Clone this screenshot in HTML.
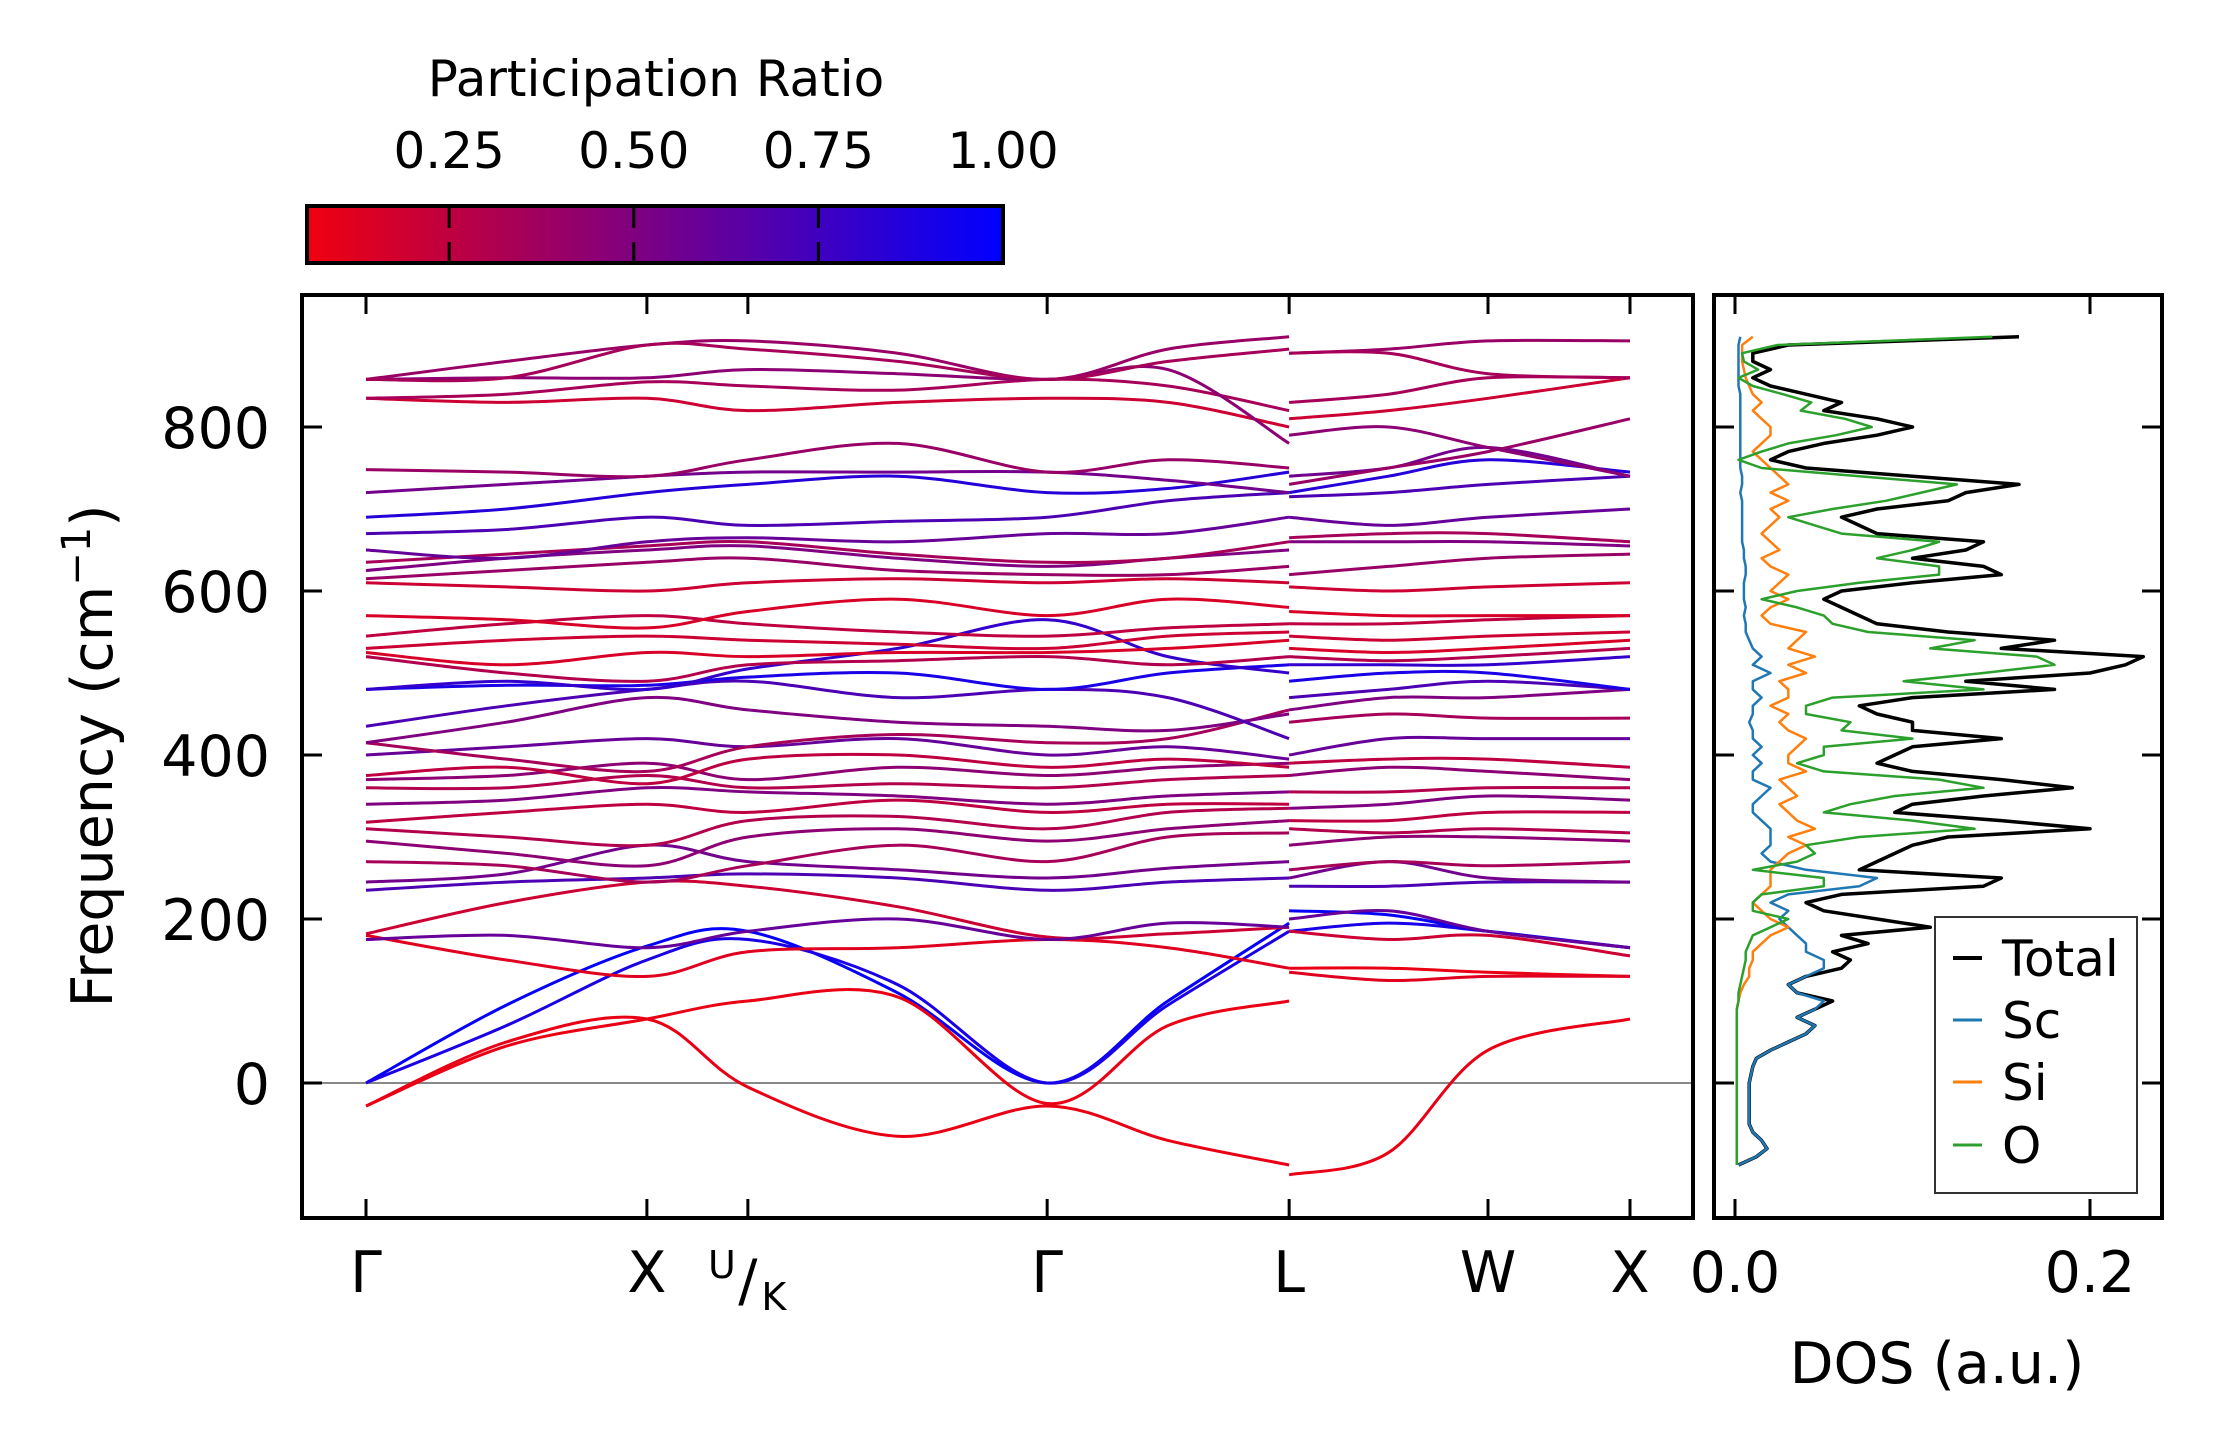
<!DOCTYPE html>
<html><head><meta charset="utf-8"><title>Phonon bands</title>
<style>
html,body{margin:0;padding:0;background:#fff;}
svg{display:block;font-family:"DejaVu Sans","Liberation Sans",sans-serif;}
</style></head>
<body>
<svg id="fig" width="2222" height="1455" viewBox="0 0 2222 1455" xmlns="http://www.w3.org/2000/svg">
<defs>
<linearGradient id="cmap" x1="0" x2="1" y1="0" y2="0">
<stop offset="0" stop-color="rgb(240,0,15)"/><stop offset="1" stop-color="rgb(0,0,255)"/>
</linearGradient>
<clipPath id="mainclip"><rect x="302" y="295" width="1391" height="923"/></clipPath>
<clipPath id="dosclip"><rect x="1714" y="295" width="448" height="923"/></clipPath>
</defs>
<g id="colorbar">
<text x="656" y="96" font-size="50" text-anchor="middle">Participation Ratio</text>
<rect x="307" y="206" width="696" height="57" fill="url(#cmap)" stroke="#000" stroke-width="4"/>
</g>
<g id="main">
<line x1="302" x2="1693" y1="1083" y2="1083" stroke="#888" stroke-width="2"/>
<g id="bands" clip-path="url(#mainclip)"></g>
<rect x="302" y="295" width="1391" height="923" fill="none" stroke="#000" stroke-width="4"/>
<g id="mainticks"></g>
<text transform="rotate(-90 112 756)" x="112" y="756" font-size="57" text-anchor="middle">Frequency (cm<tspan font-size="40" dy="-22">−1</tspan><tspan dy="22">)</tspan></text>
</g>
<g id="dos">
<g id="doslines" clip-path="url(#dosclip)"></g>
<rect x="1714" y="295" width="448" height="923" fill="none" stroke="#000" stroke-width="4"/>
<g id="dosticks"></g>
<text x="1937" y="1383" font-size="57" text-anchor="middle">DOS (a.u.)</text>
<g>
<rect x="1935" y="917" width="202" height="276" fill="#fff" stroke="#333" stroke-width="2"/>
<line x1="1953" x2="1982" y1="958" y2="958" stroke="#000" stroke-width="4"/>
<text x="2002" y="976" font-size="50">Total</text>
<line x1="1953" x2="1982" y1="1020" y2="1020" stroke="#1f77b4" stroke-width="3"/>
<text x="2002" y="1038" font-size="50">Sc</text>
<line x1="1953" x2="1982" y1="1082" y2="1082" stroke="#ff7f0e" stroke-width="3"/>
<text x="2002" y="1100" font-size="50">Si</text>
<line x1="1953" x2="1982" y1="1145" y2="1145" stroke="#2ca02c" stroke-width="3"/>
<text x="2002" y="1163" font-size="50">O</text>
</g>
</g>
</svg>
<script>
// ---- data ----
const kLabels = ["Γ","X","U/K","Γ","L","W","X"];
const kSpecial = [0, 2, 2.719, 4.85, 6.573, 7.989, 9.0]; // path distance of high-symmetry points
const kPath = [0, 1, 2, 2.719, 3.785, 4.85, 5.71, 6.573, 6.573, 7.28, 7.989, 9.0]; // path distance of band sample columns
const yTicks = [0, 200, 400, 600, 800];
const dosTicks = [0.0, 0.2];
const cbTicks = [0.25, 0.50, 0.75, 1.00];
const cbMin = 0.0575, cbMax = 1.0;

const bandPR = [0.98,0.9,0.08,0.08,0.12,0.2,0.6,0.7,0.55,0.35,0.45,0.3,0.25,0.5,0.3,0.45,0.25,0.6,0.35,0.5,0.7,0.9,0.8,0.3,0.15,0.2,0.25,0.15,0.2,0.4,0.5,0.35,0.6,0.7,0.85,0.55,0.4,0.2,0.35,0.45,0.4,0.35];
const band01 = [0,95,167,185,110,0,100,195, 210,205,185,165];
const band02 = [0,70,150,175,120,0,95,185, 185,195,185,165];
const band03 = [-28,45,78,100,105,-25,70,100, 140,140,135,130];
const band04 = [-28,50,78,-5,-65,-28,-70,-100, -112,-85,40,78];
const band05 = [180,150,130,160,165,175,165,140, 135,125,130,130];
const band06 = [182,220,245,240,215,178,182,190, 185,175,180,155];
const band07 = [175,180,165,185,200,175,195,190, 200,210,185,165];
const band08 = [235,245,250,255,250,235,245,250, 240,240,245,245];
const band09 = [245,255,290,270,260,250,262,270, 250,270,250,245];
const band10 = [270,265,245,265,290,270,300,305, 260,270,265,270];
const band11 = [295,280,265,300,310,295,310,320, 290,300,300,295];
const band12 = [310,300,290,320,325,310,330,335, 310,305,310,305];
const band13 = [318,330,340,330,345,330,340,340, 320,320,330,330];
const band14 = [340,345,360,355,350,340,350,355, 335,340,350,345];
const band15 = [360,360,375,360,365,360,370,375, 355,355,360,360];
const band16 = [370,375,390,370,385,375,385,390, 375,385,380,370];
const band17 = [375,385,365,395,400,385,395,385, 390,395,395,385];
const band18 = [400,410,420,410,420,400,410,395, 400,420,420,420];
const band19 = [415,395,380,410,425,415,420,455, 440,450,445,445];
const band20 = [415,440,470,455,440,435,430,450, 455,470,470,480];
const band21 = [435,460,480,490,470,480,470,420, 470,480,490,480];
const band22 = [480,485,485,495,500,480,500,510, 490,500,500,480];
const band23 = [480,490,480,505,530,565,520,500, 510,510,510,520];
const band24 = [520,500,490,510,515,520,510,520, 520,515,520,530];
const band25 = [525,510,525,520,525,525,530,540, 530,525,530,540];
const band26 = [530,540,545,540,535,530,545,550, 545,540,545,550];
const band27 = [545,560,570,560,550,545,555,560, 560,560,565,570];
const band28 = [570,565,555,575,590,570,590,580, 575,570,570,570];
const band29 = [610,605,600,610,615,610,615,610, 605,600,605,610];
const band30 = [615,625,635,640,625,620,620,630, 620,630,640,645];
const band31 = [625,640,650,655,640,630,640,650, 660,660,660,655];
const band32 = [635,645,655,660,645,635,640,660, 665,670,670,660];
const band33 = [650,640,660,665,660,670,670,690, 690,680,690,700];
const band34 = [670,675,690,680,685,690,710,720, 715,720,730,740];
const band35 = [690,700,720,730,740,720,725,745, 720,740,760,745];
const band36 = [720,730,740,745,745,745,735,720, 740,750,775,740];
const band37 = [748,745,740,760,780,745,760,750, 730,750,770,810];
const band38 = [835,830,835,820,830,835,830,800, 810,820,835,860];
const band39 = [835,840,855,850,845,858,850,820, 830,840,860,860];
const band40 = [858,860,860,870,865,858,870,780, 790,800,775,740];
const band41 = [858,880,900,905,890,858,895,910, 890,895,905,905];
const band42 = [858,860,900,895,880,858,880,895, 890,890,865,860];
const bands = [band01,band02,band03,band04,band05,band06,band07,band08,band09,band10,band11,band12,band13,band14,band15,band16,band17,band18,band19,band20,band21,band22,band23,band24,band25,band26,band27,band28,band29,band30,band31,band32,band33,band34,band35,band36,band37,band38,band39,band40,band41,band42];

// DOS: frequency grid from -100 to 910 step 10
const dosFreqStart = -100, dosFreqStep = 10;
const dosTotal = [0.002,0.012,0.018,0.015,0.01,0.008,0.008,0.008,0.008,0.008,
0.008,0.009,0.01,0.012,0.02,0.03,0.04,0.045,0.035,0.045,
0.055,0.035,0.03,0.04,0.06,0.065,0.055,0.075,0.06,0.11,
0.08,0.05,0.04,0.06,0.14,0.15,0.07,0.08,0.09,0.1,
0.12,0.2,0.15,0.09,0.1,0.14,0.19,0.15,0.1,0.08,
0.09,0.1,0.15,0.1,0.1,0.08,0.07,0.1,0.18,0.13,
0.2,0.22,0.23,0.15,0.18,0.12,0.08,0.07,0.06,0.05,
0.06,0.1,0.15,0.14,0.1,0.13,0.14,0.08,0.07,0.06,
0.08,0.12,0.13,0.16,0.1,0.04,0.02,0.03,0.05,0.08,
0.1,0.08,0.05,0.06,0.04,0.02,0.01,0.02,0.01,0.01,
0.03,0.16];
const dosSc = [0.002,0.012,0.018,0.015,0.01,0.008,0.008,0.008,0.008,0.008,
0.008,0.009,0.01,0.012,0.02,0.03,0.04,0.045,0.035,0.045,
0.05,0.035,0.03,0.04,0.05,0.05,0.04,0.04,0.035,0.03,
0.025,0.03,0.02,0.03,0.07,0.08,0.04,0.02,0.015,0.02,
0.02,0.02,0.015,0.01,0.01,0.015,0.02,0.01,0.01,0.015,
0.01,0.015,0.01,0.01,0.008,0.01,0.01,0.015,0.01,0.01,
0.02,0.01,0.015,0.01,0.008,0.006,0.006,0.005,0.006,0.005,
0.005,0.005,0.006,0.006,0.005,0.005,0.004,0.004,0.004,0.004,
0.004,0.004,0.003,0.004,0.004,0.003,0.003,0.003,0.003,0.003,
0.003,0.003,0.003,0.003,0.003,0.002,0.002,0.002,0.002,0.002,
0.002,0.003];
const dosSi = [0.001,0.001,0.001,0.001,0.001,0.001,0.001,0.001,0.001,0.001,
0.001,0.001,0.001,0.001,0.001,0.001,0.001,0.001,0.001,0.001,
0.002,0.003,0.005,0.008,0.008,0.01,0.01,0.015,0.02,0.03,
0.02,0.015,0.01,0.015,0.02,0.02,0.02,0.025,0.03,0.04,
0.03,0.045,0.035,0.03,0.025,0.035,0.03,0.025,0.04,0.03,
0.03,0.035,0.04,0.03,0.025,0.03,0.02,0.03,0.03,0.025,
0.04,0.03,0.045,0.03,0.035,0.04,0.02,0.015,0.02,0.03,
0.02,0.025,0.03,0.02,0.015,0.025,0.02,0.015,0.02,0.025,
0.02,0.03,0.02,0.03,0.025,0.02,0.015,0.01,0.015,0.02,
0.02,0.015,0.01,0.015,0.01,0.008,0.006,0.005,0.004,0.004,
0.004,0.01];
const dosO = [0.001,0.001,0.001,0.001,0.001,0.001,0.001,0.001,0.001,0.001,
0.001,0.001,0.001,0.001,0.001,0.001,0.001,0.001,0.001,0.001,
0.002,0.002,0.003,0.004,0.005,0.006,0.006,0.008,0.01,0.02,
0.03,0.01,0.01,0.015,0.05,0.05,0.01,0.035,0.045,0.04,
0.07,0.135,0.1,0.05,0.065,0.09,0.14,0.115,0.05,0.035,
0.05,0.05,0.1,0.06,0.065,0.04,0.04,0.055,0.14,0.095,
0.14,0.18,0.17,0.11,0.135,0.075,0.055,0.05,0.035,0.015,
0.035,0.07,0.115,0.115,0.08,0.1,0.115,0.06,0.045,0.03,
0.055,0.085,0.105,0.125,0.07,0.015,0.002,0.015,0.03,0.057,
0.077,0.062,0.037,0.043,0.027,0.01,0.002,0.013,0.005,0.004,
0.024,0.145];

// ---- scales ----
const NS = "http://www.w3.org/2000/svg";
const yPx = f => 1083 - f * 0.82;
const kPx = d => 366 + d * ((1630 - 366) / 9.0);
const dosPx = v => 1735 + v * 1775;
const cbPx = v => 307 + (v - cbMin) / (cbMax - cbMin) * 696;
function prColor(p){ const t=Math.max(0,Math.min(1,(p-cbMin)/(cbMax-cbMin))); return `rgb(${Math.round(240*(1-t))},0,${Math.round(15+240*t)})`; }
function mk(tag, attrs, parent){ const e=document.createElementNS(NS,tag); for(const k in attrs) e.setAttribute(k,attrs[k]); parent.appendChild(e); return e; }
function smooth(pts){
  let d=`M${pts[0][0].toFixed(1)},${pts[0][1].toFixed(1)}`;
  for(let i=0;i<pts.length-1;i++){
    const p0=pts[i-1]||pts[i], p1=pts[i], p2=pts[i+1], p3=pts[i+2]||pts[i+1];
    const c1=[p1[0]+(p2[0]-p0[0])/6, p1[1]+(p2[1]-p0[1])/6];
    const c2=[p2[0]-(p3[0]-p1[0])/6, p2[1]-(p3[1]-p1[1])/6];
    d+=` C${c1[0].toFixed(1)},${c1[1].toFixed(1)} ${c2[0].toFixed(1)},${c2[1].toFixed(1)} ${p2[0].toFixed(1)},${p2[1].toFixed(1)}`;
  }
  return d;
}

// ---- bands ----
const gB = document.getElementById('bands');
bands.forEach((b,i)=>{
  const segA = b.slice(0,8).map((f,j)=>[kPx(kPath[j]), yPx(f)]);
  const segB = b.slice(8).map((f,j)=>[kPx(kPath[j+8]), yPx(f)]);
  [segA, segB].forEach((seg,s)=>{
    const p = mk('path',{d:smooth(seg), fill:'none', stroke:prColor(bandPR[i]), 'stroke-width':3}, gB);
    
    
  });
});

// ---- main ticks ----
const gT = document.getElementById('mainticks');
yTicks.forEach(v=>{
  const y=yPx(v);
  const l=mk('line',{x1:302,x2:322,y1:y,y2:y,stroke:'#000','stroke-width':3},gT);
  
  
  const t=mk('text',{x:270,y:y+21,'font-size':57,'text-anchor':'end'},gT);
  
  
  t.textContent=String(v);
});
kSpecial.forEach((d,i)=>{
  const x=kPx(d);
  const l1=mk('line',{x1:x,x2:x,y1:1218,y2:1199,stroke:'#000','stroke-width':3},gT);
  
  
  const l2=mk('line',{x1:x,x2:x,y1:295,y2:314,stroke:'#000','stroke-width':3},gT);
  
  
  if(kLabels[i]==='U/K'){
    const t=mk('text',{x:x,y:1302,'font-size':57,'text-anchor':'middle'},gT);
    
    
    const u=mk('tspan',{x:x-26,y:1278,'font-size':38,'text-anchor':'middle'},t); u.textContent='U';
    const s=mk('tspan',{x:x,y:1300,'font-size':57,'text-anchor':'middle'},t); s.textContent='/';
    const k=mk('tspan',{x:x+26,y:1310,'font-size':38,'text-anchor':'middle'},t); k.textContent='K';
  } else {
    const t=mk('text',{x:x,y:1292,'font-size':57,'text-anchor':'middle'},gT);
    
    
    t.textContent=kLabels[i];
  }
});

// ---- DOS ----
const gD=document.getElementById('doslines');
const dosSeries=[[dosTotal,'#000',3.5,'dos-total'],[dosSc,'#1f77b4',2.5,'dos-sc'],[dosSi,'#ff7f0e',2.5,'dos-si'],[dosO,'#2ca02c',2.5,'dos-o']];
dosSeries.forEach(([arr,col,w,name])=>{
  const pts=arr.map((v,j)=>`${dosPx(v).toFixed(1)},${yPx(dosFreqStart+j*dosFreqStep).toFixed(1)}`).join(' ');
  const p=mk('polyline',{points:pts,fill:'none',stroke:col,'stroke-width':w,'stroke-linejoin':'round'},gD);
  
  
});
const gDT=document.getElementById('dosticks');
yTicks.forEach(v=>{
  const y=yPx(v);
  const a=mk('line',{x1:1714,x2:1734,y1:y,y2:y,stroke:'#000','stroke-width':3},gDT);
  
  
  const b=mk('line',{x1:2142,x2:2162,y1:y,y2:y,stroke:'#000','stroke-width':3},gDT);
  
  
});
dosTicks.forEach(v=>{
  const x=dosPx(v);
  const a=mk('line',{x1:x,x2:x,y1:1218,y2:1199,stroke:'#000','stroke-width':3},gDT);
  
  
  const b=mk('line',{x1:x,x2:x,y1:295,y2:314,stroke:'#000','stroke-width':3},gDT);
  
  
  const t=mk('text',{x:x,y:1292,'font-size':57,'text-anchor':'middle'},gDT);
  
  
  t.textContent=v.toFixed(1);
});

// ---- colorbar ticks ----
const gC=document.getElementById('colorbar');
cbTicks.forEach(v=>{
  const x=cbPx(v);
  if(v<1){
    const a=mk('line',{x1:x,x2:x,y1:206,y2:228,stroke:'#000','stroke-width':3},gC);
    
    
    const b=mk('line',{x1:x,x2:x,y1:242,y2:263,stroke:'#000','stroke-width':3},gC);
    
    
  }
  const t=mk('text',{x:x,y:168,'font-size':50,'text-anchor':'middle'},gC);
  
  
  t.textContent=v.toFixed(2);
});
</script>
</body></html>
